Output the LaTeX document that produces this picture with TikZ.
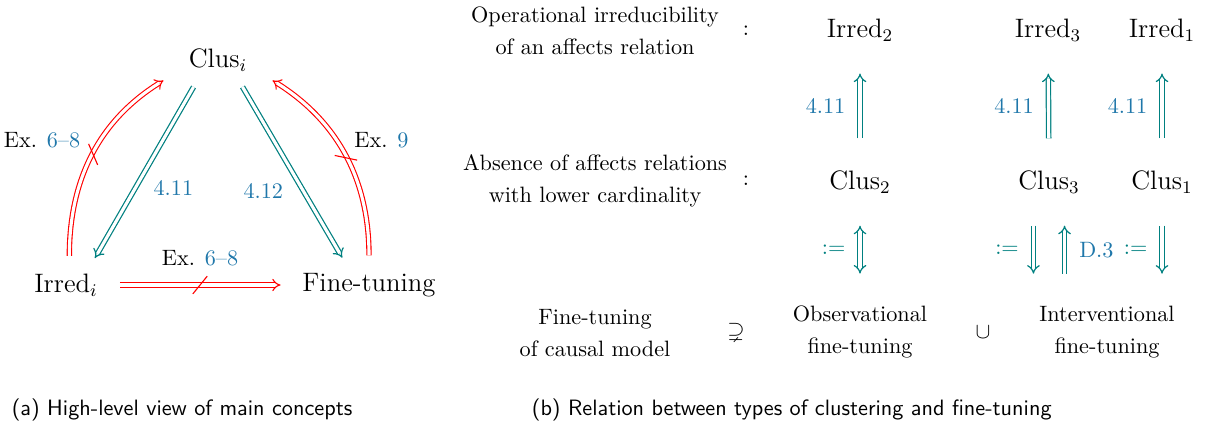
\documentclass[tikz,border=0pt]{standalone}
\usepackage{amsmath}
\usepackage{amssymb}
\usepackage{tikz}
\usetikzlibrary{arrows.meta, positioning, calc}

\definecolor{linkblue}{RGB}{31,119,170}

\tikzset{
  >={Implies[scale=1.3]},
  big/.style={font=\large},
  desc/.style={align=center, font=\fontsize{10}{14.4}\selectfont},
  ref/.style={text=linkblue},
  lbl/.style={text=black},
  tealimp/.style={teal, line width=0.55pt, double, double distance=1.4pt, ->},
  redimp/.style={red, line width=0.5pt, double, double distance=1.4pt, ->},
  vert/.style={shorten <=11pt, shorten >=11pt},
  strike/.style={sloped, minimum width=6pt, minimum height=7.5pt, inner sep=0pt},
}

\begin{document}
\begin{tikzpicture}[x=0.45pt, y=0.45pt]
\useasboundingbox (0,0) rectangle (1205,427);

% (a) overview triangle
\node[big] (clus) at (218,367) {Clus$_i$};
\node[big] (irred) at (66,142) {Irred$_i$};
\node[big] (fine) at (369,142) {Fine-tuning};

\draw[tealimp, shorten <=4pt, shorten >=4pt] ([xshift=-9pt]clus.south) -- ([xshift=11pt]irred.north)
  node[pos=.58, right=4.5pt, ref] {4.11};
\draw[tealimp, shorten <=4pt, shorten >=4pt] ([xshift=9pt]clus.south) -- ([xshift=-10pt]fine.north)
  node[pos=.6, left=5.5pt, ref] {4.12};

% separations (red, struck through)
\draw[redimp, shorten <=4.5pt, shorten >=1pt] ([xshift=1.5pt]irred.north) to[out=90, in=212]
  node[pos=.52, strike] (sl) {}
  node[pos=.6, left=6pt, lbl] {Ex. \textcolor{linkblue}{6--8}}
  ([xshift=-7pt]clus.south west);
\draw[redimp, shorten <=4.5pt, shorten >=1pt] (fine.north) to[out=90, in=-32]
  node[pos=.5, strike] (sr) {}
  node[pos=.6, right=5pt, lbl] {Ex. \textcolor{linkblue}{9}}
  ([xshift=7pt]clus.south east);
\draw[redimp, shorten <=6.5pt, shorten >=6.3pt] (irred) -- (fine)
  node[pos=.5, strike] (sh) {}
  node[pos=.5, above=5pt, lbl] {Ex. \textcolor{linkblue}{6--8}};
\foreach \s in {sl,sr,sh}
  \draw[red, line width=0.5pt] (\s.south west) -- (\s.north east);

% (b) types of clustering
\node[desc] (descirr) at (595,396) {Operational irreducibility\\of an affects relation};
\node (colirr) at (746,396) {$:$};
\node[desc] (descclus) at (595,246) {Absence of affects relations\\with lower cardinality};
\node (colclus) at (746,246) {$:$};
\node[desc] (descfine) at (595,94) {Fine-tuning\\of causal model};
\node (sups) at (736,95) {$\supsetneq$};

\node[big] (irredtwo) at (860,397) {Irred$_2$};
\node[big] (irredthree) at (1048,397) {Irred$_3$};
\node[big] (irredone) at (1162,397) {Irred$_1$};
\node[big] (clustwo) at (860,245) {Clus$_2$};
\node[big] (clusthree) at (1049,245) {Clus$_3$};
\node[big] (clusone) at (1162,245) {Clus$_1$};
\node[desc] (obs) at (860,95) {Observational\\fine-tuning};
\node (cupsym) at (983,95) {$\cup$};
\node[desc] (intv) at (1107,95) {Interventional\\fine-tuning};

\foreach \n in {two,three,one}
  \draw[tealimp, vert] (clus\n) -- (irred\n) node[midway, left=3pt, ref] {4.11};

\draw[tealimp, <->, vert] (clustwo) -- (obs) node[midway, left=3pt, teal] {$:=$};
\draw[tealimp, vert] ([xshift=-7pt]clusthree.south) -- ($(clusthree.south |- intv.north)+(-7pt,0)$)
  node[midway, left=3pt, teal] {$:=$};
\draw[tealimp, vert] ($(clusthree.south |- intv.north)+(7pt,0)$) -- ([xshift=7pt]clusthree.south)
  node[midway, right=3pt, ref] {D.3};
\draw[tealimp, vert] (clusone.south) -- (clusone.south |- intv.north)
  node[midway, left=3pt, teal] {$:=$};

% captions
\node[anchor=west, font=\sffamily] (capa) at (4,17) {(a) High-level view of main concepts};
\node[anchor=west, font=\sffamily] (capb) at (524,17) {(b) Relation between types of clustering and fine-tuning};
\end{tikzpicture}
\end{document}
